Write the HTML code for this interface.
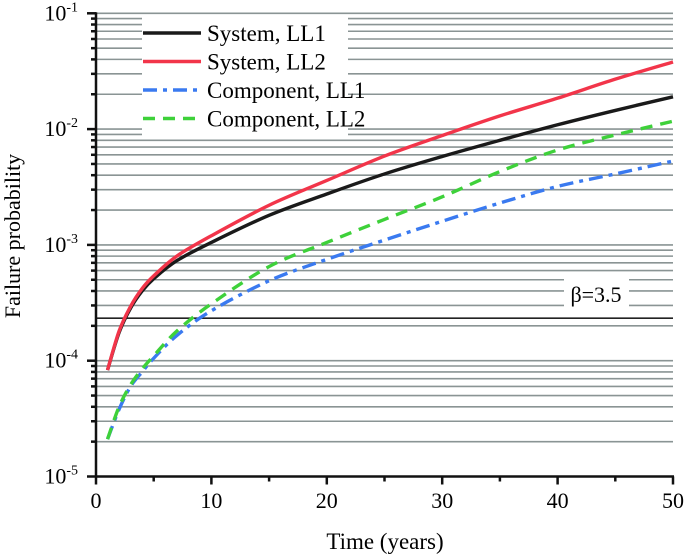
<!DOCTYPE html>
<html><head><meta charset="utf-8"><style>
body{margin:0;background:#fff}
svg{display:block;font-family:"Liberation Serif",serif}
</style></head><body>
<svg id="chart" width="685" height="555" viewBox="0 0 685 555"></svg>
<script>
const years=[1,2,3,4,5,7,10,15,20,25,30,35,40,45,50];
const sysLL1=[8.3e-5,1.75e-4,2.85e-4,4.0e-4,5.1e-4,7.3e-4,1.05e-3,1.8e-3,2.75e-3,4.1e-3,5.8e-3,8.0e-3,1.09e-2,1.45e-2,1.9e-2];
const sysLL2=[8.3e-5,1.8e-4,2.95e-4,4.2e-4,5.4e-4,8.0e-4,1.2e-3,2.2e-3,3.6e-3,5.85e-3,8.8e-3,1.3e-2,1.85e-2,2.7e-2,3.8e-2];
const compLL1=[2.1e-5,3.8e-5,6.0e-5,8.0e-5,1.05e-4,1.65e-4,2.7e-4,4.9e-4,7.5e-4,1.1e-3,1.6e-3,2.3e-3,3.2e-3,4.1e-3,5.3e-3];
const compLL2=[2.1e-5,4.0e-5,6.2e-5,8.5e-5,1.1e-4,1.8e-4,3.1e-4,6.5e-4,1.05e-3,1.66e-3,2.6e-3,4.3e-3,6.6e-3,8.9e-3,1.17e-2];
const xTicks=[0,10,20,30,40,50];
const yExps=[-5,-4,-3,-2,-1];
const betaP=2.33e-4;
const seriesNames=["System, LL1","System, LL2","Component, LL1","Component, LL2"];

const NS="http://www.w3.org/2000/svg";
const svg=document.getElementById('chart');
const X0=96,X1=673,YT=13.3,YB=476.5;
const xs=v=>X0+(v-0)/(50-0)*(X1-X0);
const ys=v=>YB-(Math.log10(v)+5)/4*(YB-YT);
function mk(t,a,p){const e=document.createElementNS(NS,t);for(const k in a)e.setAttribute(k,a[k]);(p||svg).appendChild(e);return e;}

const grid=mk('g',{});


for(let e=-5;e<=-2;e++){for(let m=1;m<=9;m++){const v=m*Math.pow(10,e);if(e===-5&&m===1)continue;
 const l=mk('line',{x1:X0,x2:X1,y1:ys(v),y2:ys(v),stroke:'#8a9494','stroke-width':1.6},grid);
 
 }}
mk('line',{x1:X0,x2:X1,y1:ys(0.1),y2:ys(0.1),stroke:'#8a9494','stroke-width':1.6},grid);

const bl=mk('line',{x1:X0,x2:X1,y1:ys(betaP),y2:ys(betaP),stroke:'#222','stroke-width':1.6});


mk('rect',{x:564,y:278,width:65,height:29,fill:'#fff'});
const bt=mk('text',{x:596,y:302,'text-anchor':'middle','font-size':22});
bt.textContent='β=3.5';



const cfg=[[sysLL1,'#1a1a1a',''],[sysLL2,'#f2354a',''],[compLL1,'#3a7af0','14 6 4 6'],[compLL2,'#3ed13a','12 8']];
const snames=['series-system-ll1','series-system-ll2','series-component-ll1','series-component-ll2'];
cfg.forEach((c,i)=>{
 const vals=c[0];
 const pts=years.map((t,j)=>[xs(t),ys(vals[j])]);
 let d='M'+pts[0][0]+','+pts[0][1];
 for(let j=0;j<pts.length-1;j++){const p0=pts[j-1]||pts[j],p1=pts[j],p2=pts[j+1],p3=pts[j+2]||p2;
  d+=` C${p1[0]+(p2[0]-p0[0])/6},${p1[1]+(p2[1]-p0[1])/6} ${p2[0]-(p3[0]-p1[0])/6},${p2[1]-(p3[1]-p1[1])/6} ${p2[0]},${p2[1]}`;}
 const p=mk('path',{d:d,fill:'none',stroke:c[1],'stroke-width':3.4,'stroke-dasharray':c[2]||'none'});
 
 
});

const lg=mk('g',{});


mk('rect',{x:142,y:15,width:206,height:122,fill:'#fff'},lg);
cfg.forEach((c,i)=>{const y=33+i*28.5;
 mk('line',{x1:143,x2:201,y1:y,y2:y,stroke:c[1],'stroke-width':3.6,'stroke-dasharray':c[2]||'none'},lg);
 const t=mk('text',{x:207,y:y+8,'font-size':23},lg);t.textContent=seriesNames[i];
 
 });

const ax=mk('g',{stroke:'#111','stroke-width':2.5});


mk('line',{x1:X0,x2:X0,y1:YT-1,y2:YB+1},ax);
mk('line',{x1:X0-1,x2:X1+1,y1:YB,y2:YB},ax);
for(let v=0;v<=50;v+=5){mk('line',{x1:xs(v),x2:xs(v),y1:YB,y2:YB+(v%10===0?8:5)},ax);}
for(let e=-5;e<=-2;e++)for(let m=2;m<=9;m++)mk('line',{x1:X0-5,x2:X0,y1:ys(m*Math.pow(10,e)),y2:ys(m*Math.pow(10,e))},ax);
yExps.forEach(e=>{mk('line',{x1:X0-9,x2:X0,y1:ys(Math.pow(10,e)),y2:ys(Math.pow(10,e))},ax);
 const t=mk('text',{x:78,y:ys(Math.pow(10,e))+7,'text-anchor':'end','font-size':22});
 t.innerHTML='10<tspan dy="-9" font-size="14">'+e+'</tspan>';
 
 });
xTicks.forEach(v=>{const t=mk('text',{x:xs(v),y:508,'text-anchor':'middle','font-size':22});t.textContent=v;
 
 });
const xt=mk('text',{x:385,y:549,'text-anchor':'middle','font-size':23});xt.textContent='Time (years)';


const yt=mk('text',{x:0,y:0,'text-anchor':'middle','font-size':22,transform:'translate(20,236) rotate(-90)'});yt.textContent='Failure probability';


</script>
</body></html>
